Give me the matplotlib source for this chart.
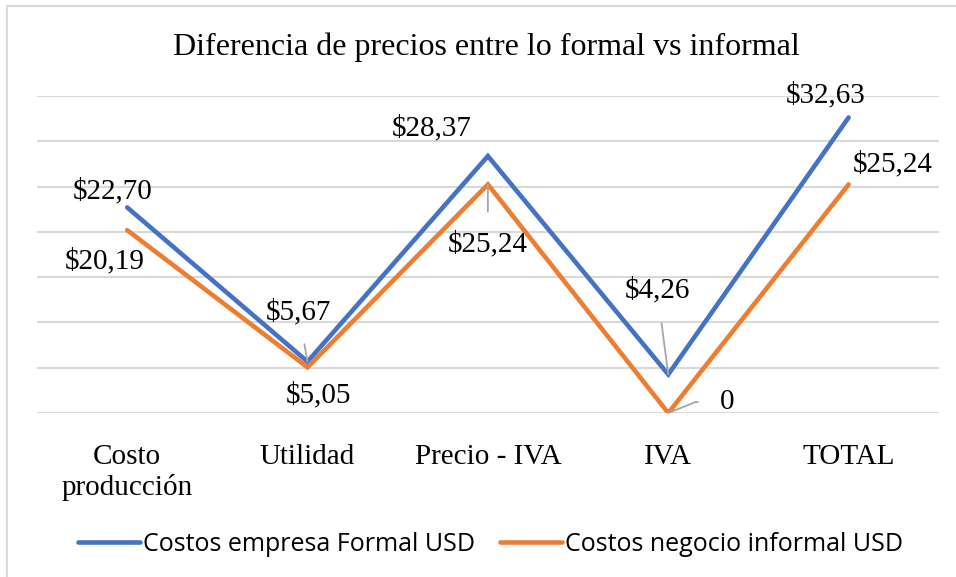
import numpy as np
import matplotlib.pyplot as plt
from matplotlib.lines import Line2D

# datos del grafico
categorias = ["Costo\nproducción", "Utilidad", "Precio - IVA", "IVA", "TOTAL"]
formal = [22.70, 5.67, 28.37, 4.26, 32.63]
informal = [20.19, 5.05, 25.24, 0.0, 25.24]
etiq_formal = ["$22,70", "$5,67", "$28,37", "$4,26", "$32,63"]
etiq_informal = ["$20,19", "$5,05", "$25,24", "0", "$25,24"]

azul = "#4472C4"
naranja = "#ED7D31"
gris = "#D9D9D9"
serif = "Liberation Serif"

fig = plt.figure(figsize=(9.56, 5.77), dpi=100)
ax = fig.add_axes([0.0387, 0.2842, 0.9433, 0.5494])

x = np.arange(len(categorias))
ax.plot(x, formal, color=azul, lw=3.3, solid_capstyle="round", solid_joinstyle="miter",
        label="Costos empresa Formal USD", zorder=3)
ax.plot(x, informal, color=naranja, lw=3.3, solid_capstyle="round", solid_joinstyle="miter",
        label="Costos negocio informal USD", zorder=3)

ax.set_xlim(-0.5, len(categorias) - 0.5)
ax.set_ylim(0, 35)
ax.set_yticks(np.arange(0, 36, 5))
ax.yaxis.grid(True, color=gris, lw=1.5)
ax.set_axisbelow(True)
ax.tick_params(axis="y", left=False, labelleft=False)
ax.tick_params(axis="x", length=0, pad=22)
ax.set_xticks(x)
ax.set_xticklabels(categorias, fontsize=21, family=serif, linespacing=1.2)
for s in ax.spines.values():
    s.set_visible(False)

# desplazamientos de las etiquetas en pixeles (dx, dy)
off_f = [(-15, 16), (-9, 50), (-56, 28), (-11, 84), (-23, 22)]
off_i = [(-22, -31), (11, -28), (0, -60), (59, 11), (44, 20)]
guia_f = [False, True, False, True, False]
guia_i = [False, False, True, True, False]

def etiqueta(xi, yi, txt, off, guia, codo=False):
    arrow = None
    if guia:
        arrow = dict(arrowstyle="-", color="#A6A6A6", lw=1.3, shrinkA=12, shrinkB=0)
        if codo:
            arrow["connectionstyle"] = "angle,angleA=180,angleB=22,rad=0"
            arrow["shrinkA"] = 14
    ax.annotate(txt, (xi, yi), xytext=off, textcoords="offset pixels",
                ha="center", va="center", fontsize=21, family=serif,
                arrowprops=arrow, zorder=4)

for i in range(len(categorias)):
    etiqueta(x[i], formal[i], etiq_formal[i], off_f[i], guia_f[i])
    etiqueta(x[i], informal[i], etiq_informal[i], off_i[i], guia_i[i],
             codo=(informal[i] == 0))

fig.text(0.509, 0.918, "Diferencia de precios entre lo formal vs informal",
         ha="center", va="center", fontsize=23, family=serif)

leg = fig.legend(loc="center", bbox_to_anchor=(0.513, 0.057), ncol=2, frameon=False,
                 prop={"family": "Open Sans", "size": 18}, handlelength=2.5,
                 handletextpad=0.1, columnspacing=1.0)
for h in leg.get_lines():
    h.set_linewidth(3.3)
    h.set_solid_capstyle("round")

# borde del area del grafico (solo arriba e izquierda visibles)
fig.add_artist(Line2D([7 / 956, 7 / 956], [0, 1 - 6 / 577], transform=fig.transFigure,
                      color=gris, lw=1.5))
fig.add_artist(Line2D([7 / 956, 1], [1 - 6 / 577, 1 - 6 / 577], transform=fig.transFigure,
                      color=gris, lw=1.5))

fig.savefig("out.png", dpi=100, facecolor="white")
